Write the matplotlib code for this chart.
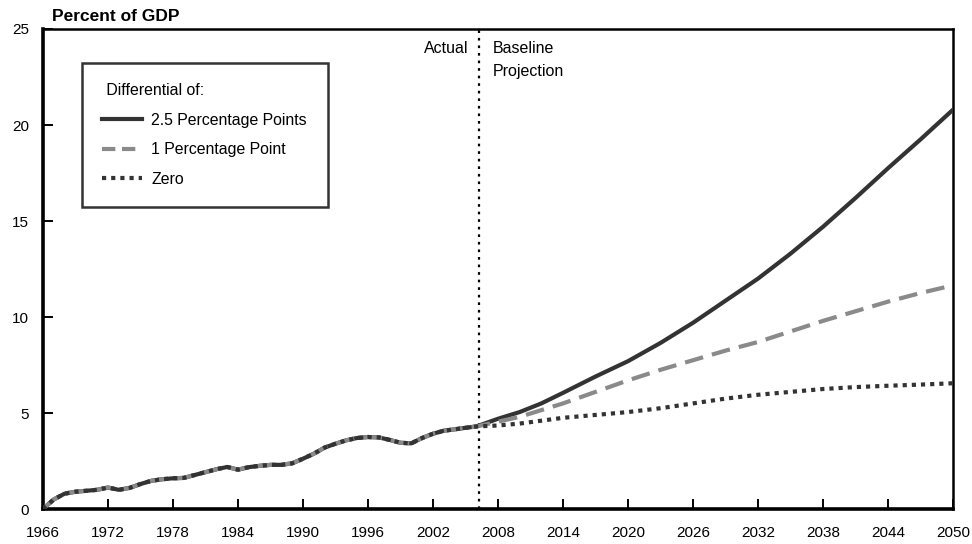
import matplotlib
matplotlib.use("Agg")
import matplotlib.pyplot as plt
from matplotlib.lines import Line2D

plt.rcParams['font.family'] = ['Liberation Sans', 'DejaVu Sans']

# Historical (actual) values, shared by all three series
hist_years = list(range(1966, 2007))
hist_values = [0.0, 0.5, 0.8, 0.9, 0.95, 1.0, 1.12, 1.0, 1.1, 1.3,
               1.47, 1.55, 1.6, 1.62, 1.77, 1.92, 2.07, 2.19, 2.05, 2.18,
               2.25, 2.3, 2.3, 2.38, 2.62, 2.88, 3.2, 3.4, 3.58, 3.7,
               3.75, 3.73, 3.6, 3.45, 3.42, 3.7, 3.92, 4.08, 4.15, 4.23,
               4.3]

# Projection years
proj_years = [2006, 2008, 2010, 2012, 2014, 2017, 2020, 2023, 2026, 2029,
              2032, 2035, 2038, 2041, 2044, 2047, 2050]
proj_25 = [4.3, 4.7, 5.05, 5.5, 6.05, 6.9, 7.7, 8.65, 9.7, 10.85,
           12.0, 13.3, 14.7, 16.2, 17.75, 19.25, 20.8]
proj_1 = [4.3, 4.55, 4.8, 5.15, 5.5, 6.1, 6.7, 7.25, 7.75, 8.25,
          8.7, 9.25, 9.8, 10.3, 10.8, 11.25, 11.65]
proj_0 = [4.3, 4.35, 4.45, 4.6, 4.75, 4.9, 5.05, 5.25, 5.5, 5.75,
          5.95, 6.1, 6.25, 6.35, 6.42, 6.48, 6.55]

series_labels = ["2.5 Percentage Points", "1 Percentage Point", "Zero"]
x_ticks = [1966, 1972, 1978, 1984, 1990, 1996, 2002, 2008, 2014, 2020,
           2026, 2032, 2038, 2044, 2050]
y_ticks = [0, 5, 10, 15, 20, 25]
split_year = 2006.25

fig = plt.figure(figsize=(9.72, 5.44), dpi=100)
ax = fig.add_axes([0.0442, 0.0643, 0.9363, 0.8824])

years_all = hist_years + proj_years[1:]

solid_color = '#333333'
dash_color = '#8a8a8a'
dot_color = '#333333'

ax.plot(years_all, hist_values + proj_25[1:], color=solid_color, lw=3.0,
        solid_capstyle='round', solid_joinstyle='round', zorder=3)
ax.plot(years_all, hist_values + proj_1[1:], color=dash_color, lw=3.0,
        dashes=(4.5, 2.2), zorder=4)
ax.plot(years_all, hist_values + proj_0[1:], color=dot_color, lw=3.0,
        dashes=(1.0, 1.2), zorder=5)

ax.axvline(split_year, color='black', lw=1.6, ls=(0, (1.2, 2.2)), zorder=2)

ax.set_xlim(1966, 2050)
ax.set_ylim(0, 25)
ax.set_xticks(x_ticks)
ax.set_xticklabels([str(t) for t in x_ticks])
ax.set_yticks(y_ticks)
ax.set_yticklabels([str(t) for t in y_ticks])
ax.tick_params(axis='both', direction='in', length=7, width=1.4,
               labelsize=11, colors='black')
ax.tick_params(axis='x', pad=12)
ax.tick_params(axis='y', pad=10)

for side in ['left', 'bottom']:
    ax.spines[side].set_linewidth(2.6)
for side in ['top', 'right']:
    ax.spines[side].set_linewidth(1.8)

fig.text(0.0535, 0.955, "Percent of GDP", fontsize=12.5, fontweight='bold',
         ha='left', va='bottom')

ax.text(2005.3, 24.0, "Actual", fontsize=11.5, ha='right', va='center')
ax.text(2007.5, 24.0, "Baseline", fontsize=11.5, ha='left', va='center')
ax.text(2007.5, 22.8, "Projection", fontsize=11.5, ha='left', va='center')

handles = [
    Line2D([], [], color=solid_color, lw=3.0),
    Line2D([], [], color=dash_color, lw=3.0, dashes=(3.2, 1.6)),
    Line2D([], [], color=dot_color, lw=3.0, dashes=(1.0, 1.2)),
]
leg = ax.legend(handles, series_labels, title=" Differential of:",
                loc='upper left', bbox_to_anchor=(0.0425, 0.93),
                frameon=True, fancybox=False, edgecolor='black',
                fontsize=11.4, title_fontsize=11.4, handlelength=2.5,
                handletextpad=0.6, labelspacing=0.92, borderpad=1.3,
                borderaxespad=0.0, alignment='left')
leg.get_frame().set_linewidth(1.8)
leg.set_zorder(6)

fig.savefig("out.png", dpi=100)
